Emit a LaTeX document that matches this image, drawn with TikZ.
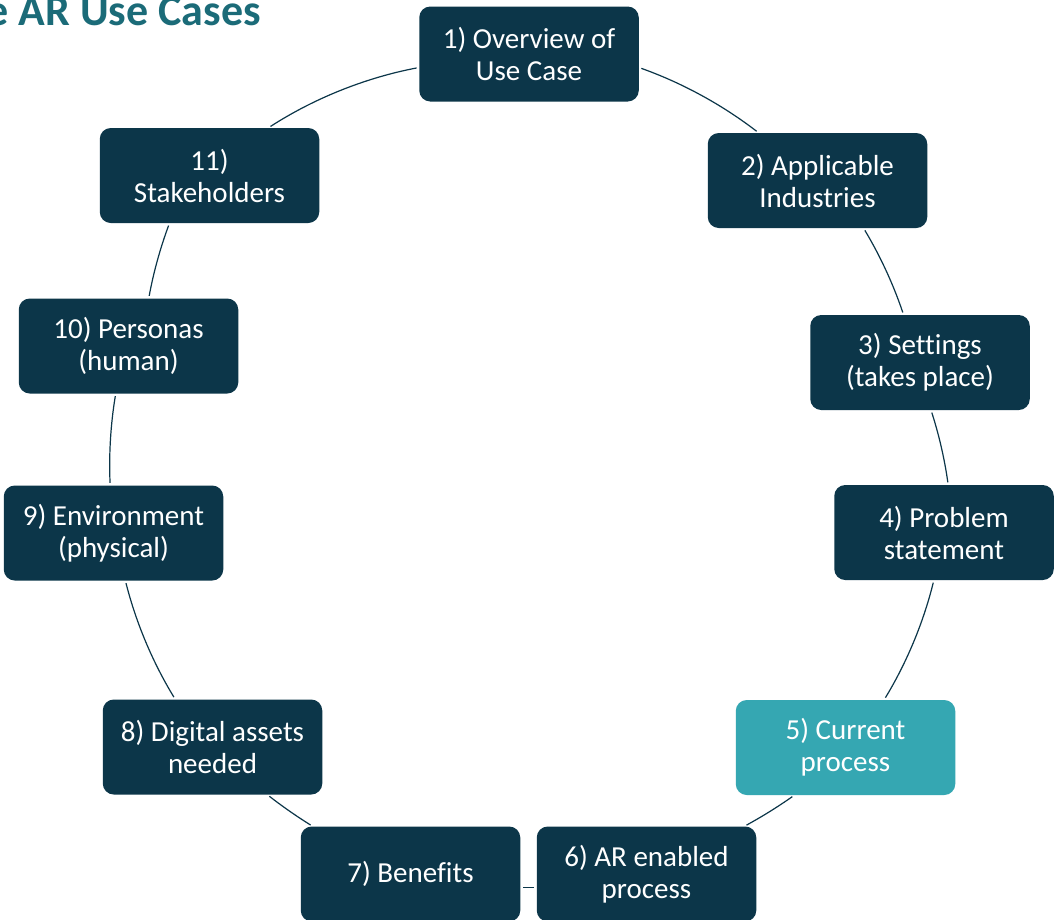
\documentclass[tikz,border=0pt]{standalone}
\usepackage{fontspec}
\setmainfont[Ligatures=NoCommon]{Carlito}
\definecolor{boxdark}{HTML}{0C3649}
\definecolor{boxteal}{HTML}{35A7B2}
\definecolor{titleteal}{HTML}{1B6B78}
\definecolor{linecol}{HTML}{0C3649}
\begin{document}
\begin{tikzpicture}[x=1pt,y=-1pt,
  stepbox/.style={rectangle, rounded corners=11pt, fill=boxdark, draw=none,
    minimum width=219.5pt, minimum height=95pt, inner sep=0pt,
    text=white, align=center, font=\fontsize{29}{32}\selectfont},
  tealbox/.style={stepbox, fill=boxteal},
  conn/.style={draw=linecol, line width=1.2pt, looseness=0.86,
    shorten <=2.5pt, shorten >=2.5pt}]
\useasboundingbox (0,0) rectangle (1057,919);
\fill[white] (0,0) rectangle (1057,919);
\node[anchor=base east, text=titleteal, inner sep=0pt,
  font=\fontsize{44}{44}\selectfont\bfseries] (title) at (261,25) {e AR Use Cases};

\node[stepbox] (n1) at (529,54) {1) Overview of\\Use Case};
\node[stepbox] (n2) at (817.5,180.5) {2) Applicable\\Industries};
\node[stepbox] (n3) at (920,362.5) {3) Settings\\(takes place)};
\node[stepbox] (n4) at (944,532.5) {4) Problem\\statement};
\node[tealbox] (n5) at (845.5,747.5) {5) Current\\process};
\node[stepbox] (n6) at (646.5,874) {6) AR enabled\\process};
\node[stepbox] (n7) at (410.5,874) {7) Benefits};
\node[stepbox] (n8) at (212.5,747) {8) Digital assets\\needed};
\node[stepbox] (n9) at (113.5,533) {9) Environment\\(physical)};
\node[stepbox] (n10) at (128.5,346) {10) Personas\\(human)};
\node[stepbox] (n11) at (209.5,175.5) {11)\\Stakeholders};

\draw[conn] (n1.-7.8) to[bend left=9] (n2.141.9);
\draw[conn] (n2.-46.9) to[bend left=6.2] (n3.109.7);
\draw[conn] (n3.-77) to[bend left=5] (n4.85.2);
\draw[conn] (n4.258.1) to[bend left=8.7] (n5.51);
\draw[conn] (n5.223.2) to[bend left=3.3] (n6.26);
\draw[conn] (n6.187.3) -- (n7.-7.3);
\draw[conn] (n7.154) to[bend left=3.1] (n8.-41.9);
\draw[conn] (n8.128) to[bend left=8.6] (n9.-76.3);
\draw[conn] (n9.94.3) to[bend left=6] (n10.255.4);
\draw[conn] (n10.67.9) to[bend left=5] (n11.230.3);
\draw[conn] (n11.39.6) to[bend left=11] (n1.187.8);
\end{tikzpicture}
\end{document}
